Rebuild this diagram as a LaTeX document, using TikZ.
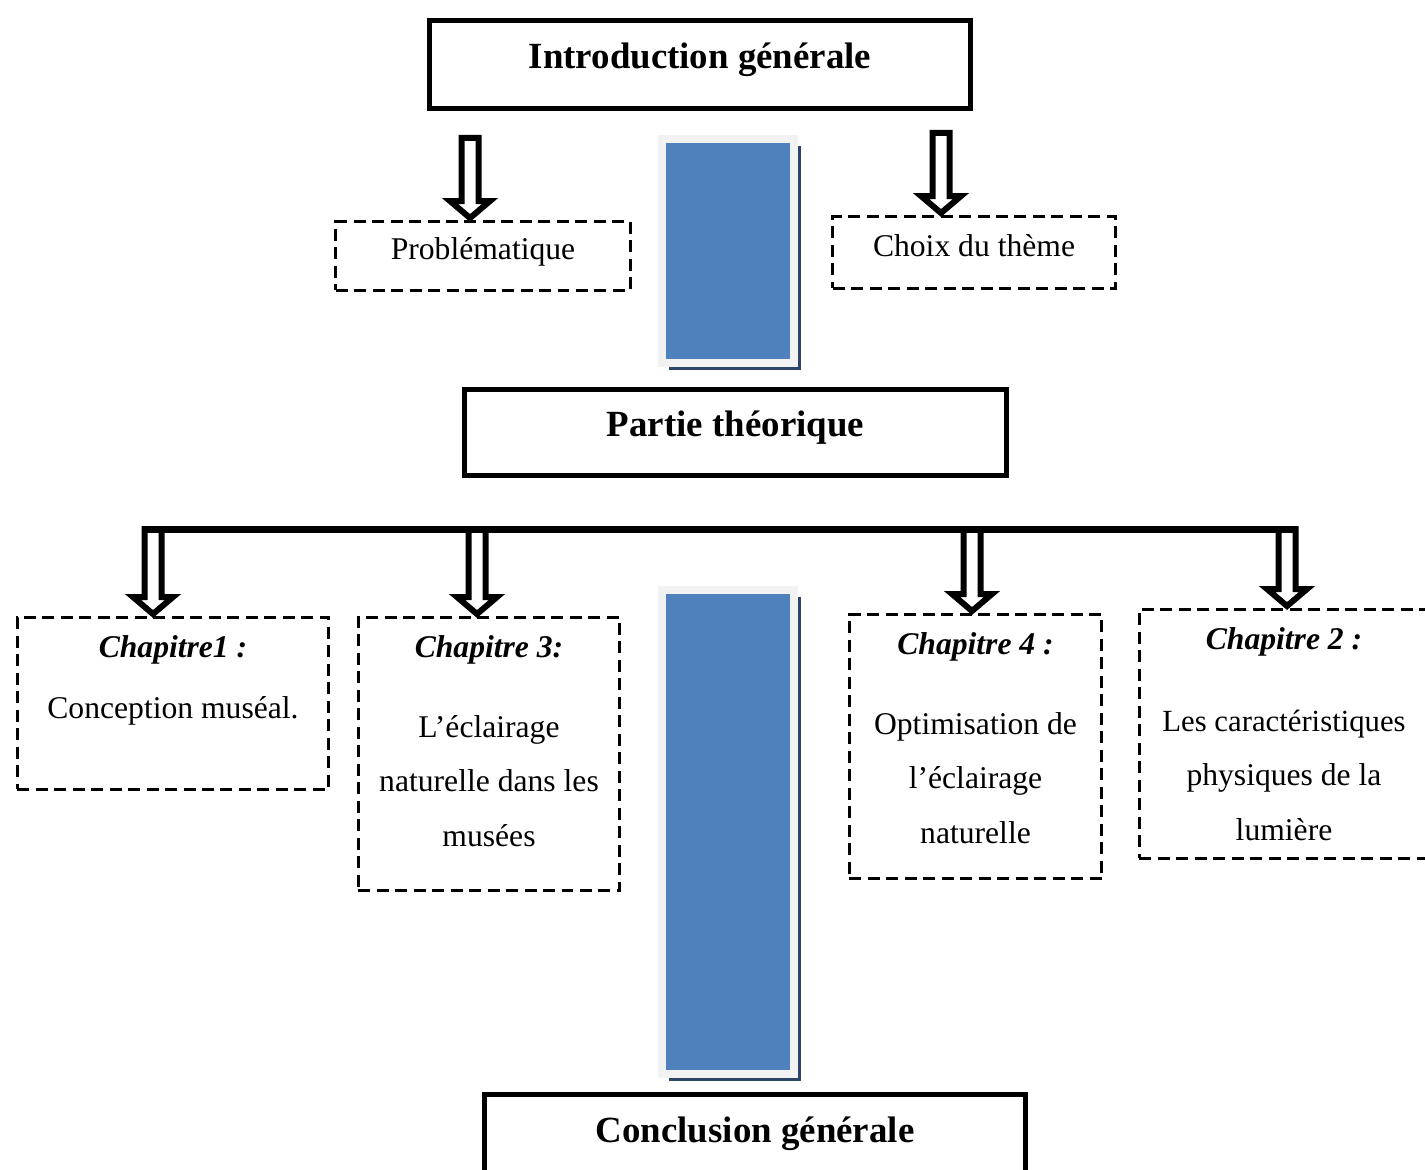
\documentclass[tikz,border=0pt]{standalone}
\usepackage{fontspec}
\setmainfont{Liberation Serif}
\usetikzlibrary{calc, positioning, shadows}
\definecolor{barBlue}{HTML}{4F81BD}
\definecolor{barFrame}{HTML}{F2F2F2}
\definecolor{barShadow}{HTML}{2B4468}

\tikzset{
  titlebox/.style={draw, line width=0.11cm, inner sep=0pt,
    font=\fontsize{21}{25}\selectfont\bfseries, text height=0.33cm, text depth=0.17cm},
  smallbox/.style={draw, line width=0.06cm, dash pattern=on 0.24cm off 0.13cm, inner sep=0pt,
    font=\fontsize{18}{22}\selectfont, text height=0.33cm, text depth=0.17cm},
  chapbox/.style={draw, line width=0.06cm, dash pattern=on 0.24cm off 0.13cm, anchor=north,
    align=center, inner xsep=0.1cm, inner ysep=0.36cm, font=\fontsize{18}{31}\selectfont},
  bluebar/.style={fill=barBlue, draw=barFrame, line width=0.16cm,
    drop shadow={shadow xshift=0.14cm, shadow yshift=-0.14cm, opacity=1, fill=barShadow}},
  hollowarrow/.style={draw, fill=white, line width=0.12cm, line join=miter},
  mainbar/.style={line width=0.14cm}
}

\newcommand{\chaphead}[1]{{\bfseries\itshape #1}}
\newcommand{\fatarrow}[2]{%
  \path ($(#1 |- #2)+(0,-2)$) coordinate (fa-tip);
  \draw[hollowarrow] ($(#1)+(-8.5,0)$) -- ($(fa-tip)+(-8.5,-17)$) -- ($(fa-tip)+(-20,-17)$)
    -- (fa-tip) -- ($(fa-tip)+(20,-17)$) -- ($(fa-tip)+(8.5,-17)$) -- ($(#1)+(8.5,0)$) -- cycle;}

\begin{document}
\begin{tikzpicture}[x=0.02cm, y=-0.02cm]
\useasboundingbox (0,0) rectangle (1425,1169);
\clip (0,0) rectangle (1425,1169);

% blue bars
\node[bluebar, minimum width=2.64cm, minimum height=4.48cm] (bar1) at (728,251) {};
\node[bluebar, minimum width=2.64cm, minimum height=9.68cm] (bar2) at (728,832) {};

% main titles
\node[titlebox, minimum width=10.82cm, minimum height=1.76cm] (intro) at (700,64.5) {Introduction générale};
\node[titlebox, minimum width=10.84cm, minimum height=1.72cm] (partie) at (735.5,432.5) {Partie théorique};
\node[titlebox, minimum width=10.82cm, minimum height=1.76cm] (concl) at (755,1138.5) {Conclusion générale};

% intro parts
\node[smallbox, minimum width=5.9cm, minimum height=1.38cm] (prob) at (483,256) {Problématique};
\node[smallbox, minimum width=5.66cm, minimum height=1.44cm] (choix) at (974,252.5) {Choix du thème};

\coordinate (pTop) at (470,138);
\coordinate (cTop) at (941,133);
\fatarrow{pTop}{prob.north}
\fatarrow{cTop}{choix.north}

% chapters
\node[chapbox, minimum width=6.24cm, text depth=1.05cm] (ch1) at (173,616)
  {\chaphead{Chapitre1 :}\\[4pt] Conception muséal.};
\node[chapbox, minimum width=5.24cm, text depth=0.53cm] (ch3) at (489,616)
  {\chaphead{Chapitre 3:}\\[14.4pt] L’éclairage\\ naturelle dans les\\ musées};
\node[chapbox, minimum width=5.06cm, text depth=0.35cm] (ch4) at (975.5,613)
  {\chaphead{Chapitre 4 :}\\[14.4pt] Optimisation de\\ l’éclairage\\ naturelle};
\node[chapbox, minimum width=5.8cm, text depth=0pt] (ch2) at (1284,608)
  {\chaphead{Chapitre 2 :}\\[15.5pt] {\fontsize{17.5}{31}\selectfont Les caractéristiques}\\ physiques de la\\ lumière};

\coordinate (barL) at (142,529);
\coordinate (barR) at (1298,529);
\coordinate (k1) at (153,529);
\coordinate (k3) at (477,529);
\coordinate (k4) at (972,529);
\coordinate (k2) at (1287,529);
\fatarrow{k1}{ch1.north}
\fatarrow{k3}{ch3.north}
\fatarrow{k4}{ch4.north}
\fatarrow{k2}{ch2.north}
\draw[mainbar] (barL) -- (barR);
\end{tikzpicture}
\end{document}
